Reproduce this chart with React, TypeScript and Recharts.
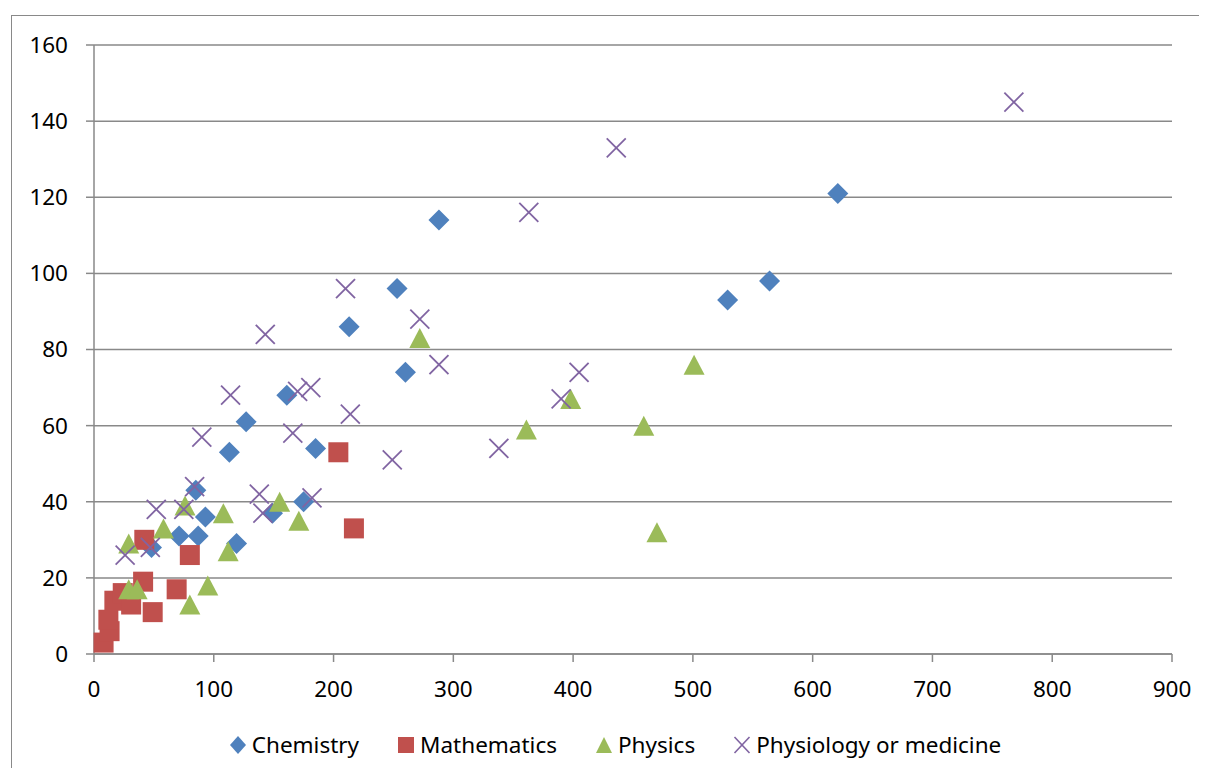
import React from "react";
import { ScatterChart, Scatter, XAxis, YAxis, CartesianGrid, Legend } from "recharts";

const chemistry = [
  { x: 621, y: 121 }, { x: 564, y: 98 }, { x: 529, y: 93 }, { x: 288, y: 114 },
  { x: 253, y: 96 }, { x: 213, y: 86 }, { x: 260, y: 74 }, { x: 161, y: 68 },
  { x: 127, y: 61 }, { x: 113, y: 53 }, { x: 185, y: 54 }, { x: 85, y: 43 },
  { x: 93, y: 36 }, { x: 71, y: 31 }, { x: 87, y: 31 }, { x: 119, y: 29 },
  { x: 48, y: 28 }, { x: 149, y: 37 }, { x: 175, y: 40 },
];

const mathematics = [
  { x: 8, y: 3 }, { x: 13, y: 6 }, { x: 12, y: 9 }, { x: 17, y: 14 },
  { x: 24, y: 16 }, { x: 31, y: 13 }, { x: 41, y: 19 }, { x: 49, y: 11 },
  { x: 42, y: 30 }, { x: 69, y: 17 }, { x: 80, y: 26 }, { x: 204, y: 53 },
  { x: 217, y: 33 },
];

const physics = [
  { x: 29, y: 17 }, { x: 36, y: 17 }, { x: 29, y: 29 }, { x: 58, y: 33 },
  { x: 76, y: 39 }, { x: 80, y: 13 }, { x: 95, y: 18 }, { x: 108, y: 37 },
  { x: 112, y: 27 }, { x: 155, y: 40 }, { x: 171, y: 35 }, { x: 272, y: 83 },
  { x: 361, y: 59 }, { x: 398, y: 67 }, { x: 459, y: 60 }, { x: 470, y: 32 },
  { x: 501, y: 76 },
];

const physiology = [
  { x: 768, y: 145 }, { x: 436, y: 133 }, { x: 363, y: 116 }, { x: 210, y: 96 },
  { x: 272, y: 88 }, { x: 143, y: 84 }, { x: 288, y: 76 }, { x: 405, y: 74 },
  { x: 114, y: 68 }, { x: 170, y: 69 }, { x: 181, y: 70 }, { x: 214, y: 63 },
  { x: 90, y: 57 }, { x: 166, y: 58 }, { x: 390, y: 67 }, { x: 338, y: 54 },
  { x: 249, y: 51 }, { x: 84, y: 44 }, { x: 138, y: 42 }, { x: 182, y: 41 },
  { x: 141, y: 37 }, { x: 52, y: 38 }, { x: 75, y: 38 }, { x: 26, y: 26 },
  { x: 47, y: 28 },
];

const xTicks = [0, 100, 200, 300, 400, 500, 600, 700, 800, 900];
const yTicks = [0, 20, 40, 60, 80, 100, 120, 140, 160];

const seriesNames = ["Chemistry", "Mathematics", "Physics", "Physiology or medicine"];
const colors = ["#4F81BD", "#C0504D", "#9BBB59", "#8064A2"];

const FONT = "'Noto Sans', 'Open Sans', sans-serif";
const FS = 22.5;
const GRAY = "#898989";

const Diamond = (p: any) => {
  const { cx, cy } = p;
  const r = 10.5;
  return <polygon points={`${cx},${cy - r} ${cx + r},${cy} ${cx},${cy + r} ${cx - r},${cy}`} fill={colors[0]} />;
};
const Square = (p: any) => {
  const { cx, cy } = p;
  return <rect x={cx - 10} y={cy - 10} width={20} height={20} fill={colors[1]} />;
};
const Triangle = (p: any) => {
  const { cx, cy } = p;
  return <polygon points={`${cx},${cy - 10} ${cx + 10.5},${cy + 10} ${cx - 10.5},${cy + 10}`} fill={colors[2]} />;
};
const Cross = (p: any) => {
  const { cx, cy } = p;
  const r = 9.5;
  return (
    <g stroke={colors[3]} strokeWidth={1.8}>
      <line x1={cx - r} y1={cy - r} x2={cx + r} y2={cy + r} />
      <line x1={cx - r} y1={cy + r} x2={cx + r} y2={cy - r} />
    </g>
  );
};

const LegendIcon = ({ i }: { i: number }) => {
  const c = 9;
  return (
    <svg width={18} height={18} style={{ display: "block" }}>
      {i === 0 && <polygon points={`9,0 17,9 9,18 1,9`} fill={colors[0]} />}
      {i === 1 && <rect x={1} y={1} width={16} height={16} fill={colors[1]} />}
      {i === 2 && <polygon points={`9,1 17,17 1,17`} fill={colors[2]} />}
      {i === 3 && (
        <g stroke={colors[3]} strokeWidth={1.6}>
          <line x1={c - 7.5} y1={c - 8} x2={c + 7.5} y2={c + 8} />
          <line x1={c - 7.5} y1={c + 8} x2={c + 7.5} y2={c - 8} />
        </g>
      )}
    </svg>
  );
};

const renderLegend = () => (
  <div
    style={{
      display: "flex",
      justifyContent: "center",
      alignItems: "center",
      fontFamily: FONT,
      fontSize: FS,
      color: "#000",
      lineHeight: "30px",
    }}
  >
    {seriesNames.map((n, i) => (
      <div key={n} style={{ display: "flex", alignItems: "center", marginRight: i < 3 ? 38 : 0 }}>
        <div style={{ marginRight: 5 }}>
          <LegendIcon i={i} />
        </div>
        <span>{n}</span>
      </div>
    ))}
  </div>
);

export default function App() {
  return (
    <div style={{ position: "relative", width: 1199, height: 760, overflow: "hidden", background: "#fff" }}>
      <div
        style={{
          position: "absolute",
          left: 3,
          top: 7,
          width: 1300,
          height: 900,
          border: `1px solid ${GRAY}`,
          boxSizing: "border-box",
        }}
      />
      <div style={{ position: "absolute", left: 0, top: 0 }}>
        <ScatterChart width={1199} height={760} margin={{ top: 37, right: 35, left: 0, bottom: 74 }}>
          <CartesianGrid vertical={false} stroke={GRAY} strokeWidth={1.5} />
          <XAxis
            type="number"
            dataKey="x"
            domain={[0, 900]}
            ticks={xTicks}
            interval={0}
            height={40}
            tickSize={8}
            tickMargin={19}
            axisLine={{ stroke: GRAY, strokeWidth: 1.5 }}
            tickLine={{ stroke: GRAY, strokeWidth: 1.5 }}
            tick={{ fill: "#000", fontSize: FS, fontFamily: FONT }}
          />
          <YAxis
            type="number"
            dataKey="y"
            domain={[0, 160]}
            ticks={yTicks}
            interval={0}
            width={86}
            tickSize={8}
            tickMargin={18}
            axisLine={{ stroke: GRAY, strokeWidth: 1.5 }}
            tickLine={{ stroke: GRAY, strokeWidth: 1.5 }}
            tick={{ fill: "#000", fontSize: FS, fontFamily: FONT }}
          />
          <Legend
            layout="horizontal"
            verticalAlign="middle"
            align="center"
            content={renderLegend}
            wrapperStyle={{ left: 68, width: 1078, top: 722, height: 30 }}
          />
          <Scatter name={seriesNames[0]} data={chemistry} shape={Diamond} isAnimationActive={false} />
          <Scatter name={seriesNames[1]} data={mathematics} shape={Square} isAnimationActive={false} />
          <Scatter name={seriesNames[2]} data={physics} shape={Triangle} isAnimationActive={false} />
          <Scatter name={seriesNames[3]} data={physiology} shape={Cross} isAnimationActive={false} />
        </ScatterChart>
      </div>
    </div>
  );
}
